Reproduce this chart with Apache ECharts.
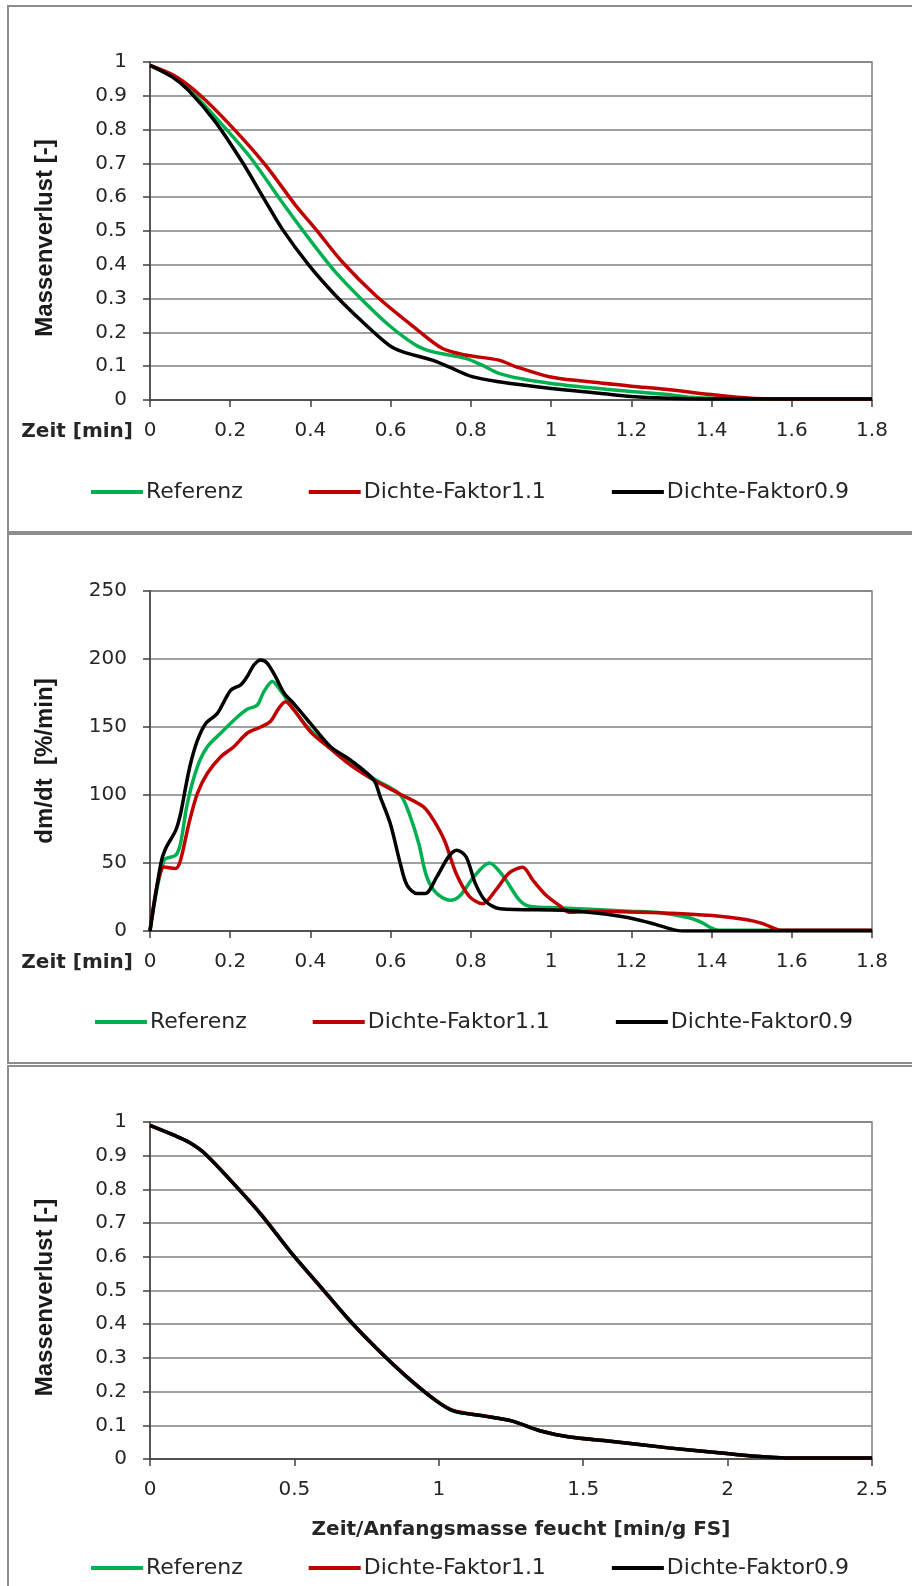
<!DOCTYPE html>
<html>
<head>
<meta charset="utf-8">
<title>Massenverlust / Trocknungsrate</title>
<style>
    html, body { margin: 0; padding: 0; background: #fff; }
    #main { width: 912px; height: 1586px; }
</style>
<script src="https://cdn.jsdelivr.net/npm/echarts@6/dist/echarts.min.js"></script>
</head>
<body>
<div id="main"></div>
<script>
// Reihen
var seriesNames = ['Referenz', 'Dichte-Faktor1.1', 'Dichte-Faktor0.9'];
var seriesColors = ['#00b050', '#c00000', '#000000'];

// Achsenteilung
var timeTicks = [0, 0.2, 0.4, 0.6, 0.8, 1, 1.2, 1.4, 1.6, 1.8];
var massTicks = [0, 0.1, 0.2, 0.3, 0.4, 0.5, 0.6, 0.7, 0.8, 0.9, 1];
var rateTicks = [0, 50, 100, 150, 200, 250];
var normTicks = [0, 0.5, 1, 1.5, 2, 2.5];

// Diagramm 1: Massenverlust ueber Zeit [min]
var massRef = [[0, 0.99], [0.055, 0.958], [0.096, 0.921], [0.163, 0.837], [0.246, 0.724], [0.329, 0.586],
    [0.396, 0.478], [0.462, 0.379], [0.529, 0.296], [0.595, 0.222], [0.662, 0.163], [0.704, 0.143],
    [0.787, 0.123], [0.828, 0.103], [0.87, 0.079], [0.93, 0.062], [1.0, 0.049], [1.1, 0.036],
    [1.2, 0.025], [1.285, 0.017], [1.35, 0.008], [1.42, 0.004], [1.5, 0.003], [1.8, 0.003]];
var massD11 = [[0, 0.99], [0.06, 0.96], [0.121, 0.906], [0.204, 0.808], [0.288, 0.695], [0.363, 0.576],
    [0.412, 0.507], [0.479, 0.409], [0.562, 0.31], [0.662, 0.212], [0.728, 0.153], [0.787, 0.133],
    [0.87, 0.118], [0.911, 0.099], [0.995, 0.069], [1.078, 0.056], [1.2, 0.041], [1.285, 0.032],
    [1.4, 0.016], [1.5, 0.005], [1.6, 0.003], [1.8, 0.003]];
var massD09 = [[0, 0.99], [0.055, 0.956], [0.096, 0.916], [0.163, 0.823], [0.23, 0.704], [0.284, 0.596],
    [0.329, 0.507], [0.396, 0.399], [0.462, 0.31], [0.529, 0.232], [0.595, 0.163], [0.629, 0.143],
    [0.704, 0.118], [0.745, 0.098], [0.803, 0.069], [0.87, 0.054], [1.0, 0.034], [1.12, 0.02],
    [1.2, 0.01], [1.29, 0.005], [1.4, 0.003], [1.8, 0.003]];

// Diagramm 2: dm/dt [%/min]
var rateRef = [[0, 0], [0.035, 52], [0.064, 55.7], [0.076, 64.3], [0.093, 93.7], [0.118, 120.7], [0.143, 135.5],
    [0.176, 145.4], [0.209, 155], [0.242, 163], [0.267, 166], [0.284, 176], [0.305, 183.4], [0.325, 177],
    [0.359, 162.5], [0.4, 147.7], [0.45, 134], [0.5, 124], [0.558, 112], [0.624, 100], [0.649, 84],
    [0.67, 64.3], [0.69, 39.8], [0.715, 27.5], [0.749, 22.6], [0.774, 26.3], [0.807, 39.8], [0.846, 50],
    [0.879, 41], [0.92, 23], [0.945, 18.2], [1.028, 17], [1.194, 14.6], [1.277, 13.3], [1.344, 9.7],
    [1.377, 6], [1.398, 2.4], [1.418, 0.5], [1.8, 0.5]];
var rateD11 = [[0, 0], [0.035, 47], [0.064, 46], [0.076, 52], [0.097, 79], [0.118, 101], [0.143, 116],
    [0.176, 128], [0.209, 135.5], [0.242, 145.4], [0.276, 150], [0.3, 154], [0.321, 163.7], [0.338, 168.6],
    [0.359, 162.5], [0.4, 146.5], [0.45, 134], [0.5, 122], [0.558, 111], [0.624, 100.6], [0.682, 91.3],
    [0.707, 81.5], [0.735, 66], [0.763, 42.5], [0.796, 25.5], [0.829, 20], [0.862, 30], [0.895, 42.5],
    [0.929, 46.8], [0.954, 37.6], [0.986, 26.7], [1.023, 18.2], [1.045, 13.8], [1.111, 14.6], [1.277, 13.3],
    [1.402, 11.4], [1.485, 8.5], [1.526, 5.6], [1.563, 1.2], [1.576, 0.5], [1.8, 0.5]];
var rateD09 = [[0, 0], [0.027, 49.6], [0.039, 60.6], [0.064, 74], [0.076, 86], [0.089, 106], [0.101, 123],
    [0.118, 140], [0.139, 152.6], [0.168, 160], [0.201, 177], [0.226, 181], [0.242, 187], [0.259, 195.6],
    [0.276, 199.3], [0.292, 197], [0.313, 187], [0.334, 175], [0.359, 167], [0.4, 152.6], [0.45, 135.5],
    [0.5, 125.6], [0.558, 111], [0.574, 98.6], [0.599, 79], [0.624, 49.6], [0.641, 33.6], [0.666, 27.5],
    [0.686, 27.5], [0.715, 39.8], [0.744, 54.5], [0.765, 59.4], [0.788, 54.6], [0.811, 35], [0.837, 21.8],
    [0.873, 16.4], [1.028, 15.3], [1.111, 13.3], [1.194, 9.7], [1.26, 4.9], [1.302, 1.2], [1.327, 0], [1.8, 0]];

// Diagramm 3: Massenverlust ueber Zeit/Anfangsmasse feucht (Kurven liegen aufeinander)
var normRef = [[0, 0.99], [0.085, 0.96], [0.135, 0.94], [0.185, 0.91], [0.286, 0.82], [0.386, 0.724],
    [0.487, 0.614], [0.588, 0.514], [0.688, 0.414], [0.789, 0.324], [0.89, 0.243], [0.99, 0.173],
    [1.05, 0.143], [1.151, 0.128], [1.252, 0.113], [1.353, 0.083], [1.453, 0.065], [1.594, 0.053],
    [1.795, 0.033], [1.997, 0.016], [2.097, 0.008], [2.2, 0.003], [2.5, 0.003]];
var normD11 = [[0, 0.99], [0.085, 0.96], [0.135, 0.94], [0.185, 0.91], [0.286, 0.821], [0.386, 0.725],
    [0.487, 0.614], [0.588, 0.513], [0.688, 0.414], [0.789, 0.325], [0.89, 0.244], [0.99, 0.174],
    [1.05, 0.144], [1.151, 0.129], [1.252, 0.113], [1.353, 0.083], [1.453, 0.065], [1.594, 0.053],
    [1.795, 0.033], [1.997, 0.016], [2.097, 0.008], [2.2, 0.003], [2.5, 0.003]];
var normD09 = [[0, 0.99], [0.085, 0.96], [0.135, 0.94], [0.185, 0.91], [0.286, 0.82], [0.386, 0.724],
    [0.487, 0.614], [0.588, 0.514], [0.688, 0.414], [0.789, 0.324], [0.89, 0.243], [0.99, 0.173],
    [1.05, 0.143], [1.151, 0.128], [1.252, 0.113], [1.353, 0.083], [1.453, 0.065], [1.594, 0.053],
    [1.795, 0.033], [1.997, 0.016], [2.097, 0.008], [2.2, 0.003], [2.5, 0.003]];

var tickFont = 'DejaVu Sans';
var titleFont = 'Liberation Sans';
var textColor = '#262626';

//x-Achse
function xAxis(idx, ticks, name, middle) {
    var opt = {
        type: 'value',
        gridIndex: idx,
        min: ticks[0],
        max: ticks[ticks.length - 1],
        interval: ticks[1] - ticks[0],
        axisLine: { show: true, onZero: false, lineStyle: { color: '#404040', width: 1.5 } },
        axisTick: { show: true, inside: false, length: 7, lineStyle: { color: '#404040', width: 1.5 } },
        axisLabel: { margin: 21, fontFamily: tickFont, fontSize: 20, color: textColor },
        splitLine: { show: false },
        name: name,
        nameTextStyle: { fontFamily: tickFont, fontSize: 20, fontWeight: 'bold', color: textColor }
    };
    if (middle) {
        opt.nameLocation = 'middle';
        opt.nameGap = 61;
        opt.nameTextStyle.padding = [0, 0, 0, 20];
    } else {
        opt.nameLocation = 'start';
        opt.nameGap = 17;
        opt.nameTextStyle.verticalAlign = 'top';
        opt.nameTextStyle.padding = [22, 0, 0, 0];
    }
    return opt;
}

//y-Achse
function yAxis(idx, ticks, name, shift) {
    return {
        type: 'value',
        gridIndex: idx,
        min: ticks[0],
        max: ticks[ticks.length - 1],
        interval: ticks[1] - ticks[0],
        axisLine: { show: true, lineStyle: { color: '#404040', width: 1.5 } },
        axisTick: { show: true, inside: false, length: 7, lineStyle: { color: '#404040', width: 1.5 } },
        axisLabel: { margin: 23, fontFamily: tickFont, fontSize: 20, color: textColor },
        splitLine: { show: true, lineStyle: { color: '#808080', width: 1.5 } },
        name: name,
        nameLocation: 'middle',
        nameGap: 93,
        nameTextStyle: { fontFamily: titleFont, fontSize: 24, fontWeight: 'bold', color: '#1a1a1a',
            padding: [0, shift, 0, 0] }
    };
}

//Linie
function line(i, idx, data) {
    return {
        name: seriesNames[i],
        type: 'line',
        xAxisIndex: idx,
        yAxisIndex: idx,
        data: data,
        symbol: 'none',
        showSymbol: false,
        smooth: 0.3,
        lineStyle: { color: seriesColors[i], width: 3.5 },
        itemStyle: { color: seriesColors[i] },
        z: 2 + i
    };
}

//Legende
function legend(top, left) {
    return {
        data: seriesNames,
        top: top,
        left: left,
        orient: 'horizontal',
        icon: 'rect',
        itemWidth: 52,
        itemHeight: 4,
        itemGap: 66,
        selectedMode: false,
        textStyle: { fontFamily: tickFont, fontSize: 22, color: textColor, padding: [0, 0, 0, -2] }
    };
}

//Rahmen
function frame(y, h) {
    return {
        type: 'rect',
        silent: true,
        shape: { x: 8, y: y, width: 930, height: h },
        style: { fill: 'none', stroke: '#8c8c8c', lineWidth: 2 }
    };
}

var chart = echarts.init(document.getElementById('main'));
var gridBase = { left: 150, width: 722, show: true, borderColor: '#808080', borderWidth: 1.5 };

var option = {
    animation: false,
    backgroundColor: '#fff',
    graphic: [frame(6, 526), frame(534, 529), frame(1066, 560)],
    grid: [
        Object.assign({ top: 62, height: 338 }, gridBase),
        Object.assign({ top: 591, height: 340 }, gridBase),
        Object.assign({ top: 1122, height: 337 }, gridBase)
    ],
    xAxis: [
        xAxis(0, timeTicks, 'Zeit [min]', false),
        xAxis(1, timeTicks, 'Zeit [min]', false),
        xAxis(2, normTicks, 'Zeit/Anfangsmasse feucht [min/g FS]', true)
    ],
    yAxis: [
        yAxis(0, massTicks, 'Massenverlust [-]', 14),
        yAxis(1, rateTicks, 'dm/dt  [%/min]', 0),
        yAxis(2, massTicks, 'Massenverlust [-]', 14)
    ],
    legend: [legend(476, 86), legend(1006, 90), legend(1552, 86)],
    series: [
        line(0, 0, massRef), line(1, 0, massD11), line(2, 0, massD09),
        line(0, 1, rateRef), line(1, 1, rateD11), line(2, 1, rateD09),
        line(0, 2, normRef), line(1, 2, normD11), line(2, 2, normD09)
    ]
};

chart.setOption(option);
</script>
</body>
</html>
